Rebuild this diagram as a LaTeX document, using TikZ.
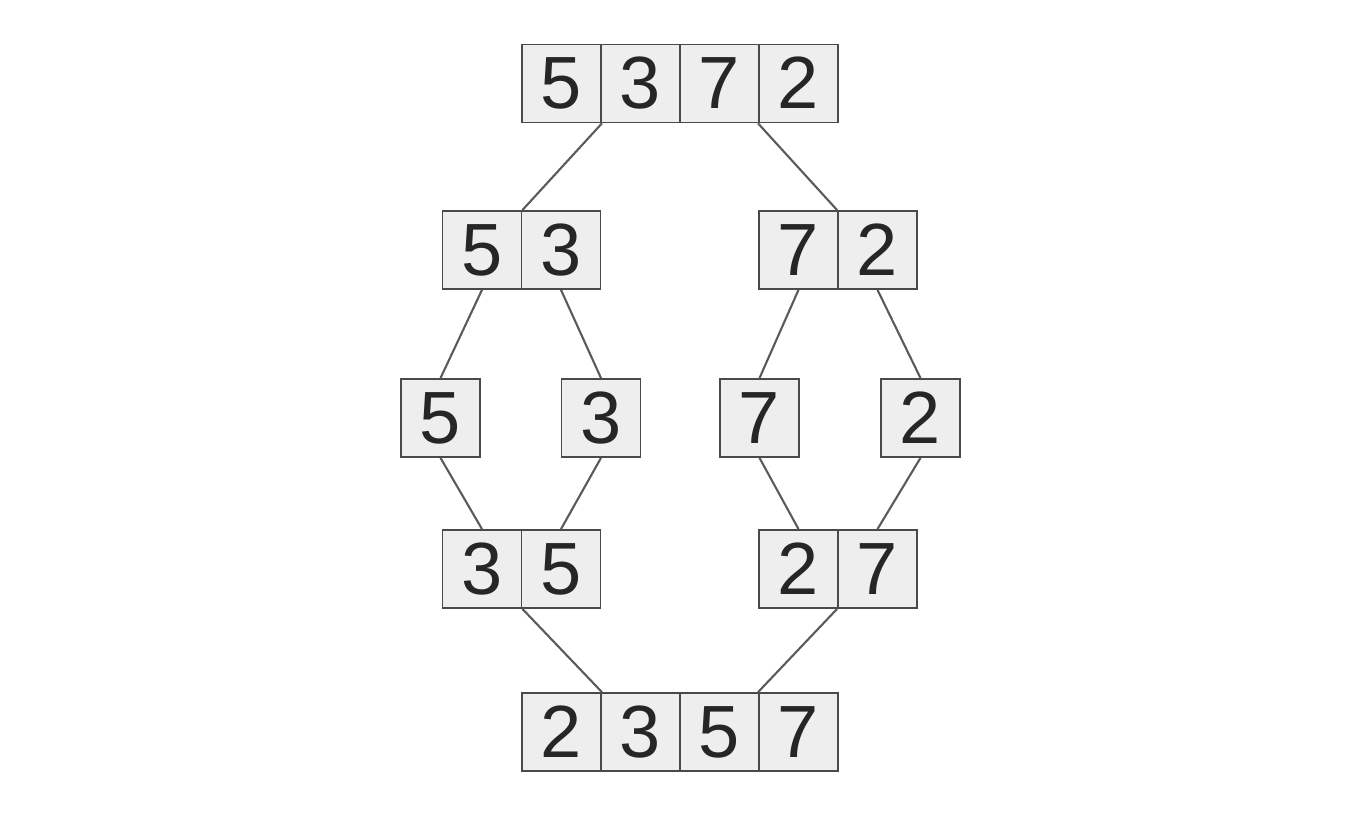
\documentclass[tikz,border=0pt]{standalone}
\usepackage{fontspec}
\setmainfont{Liberation Sans}
\definecolor{cellfill}{HTML}{EEEEEE}
\definecolor{celldraw}{HTML}{4A4A4A}
\definecolor{linkcol}{HTML}{5A5A5A}
\begin{document}
\begin{tikzpicture}[x=1pt,y=1pt,
  cell/.style={draw=celldraw, fill=cellfill, line width=1.8pt, minimum width=79pt, minimum height=78pt, inner sep=0pt, font=\fontsize{74}{80}\selectfont, text=black!85, text depth=0pt, text height=51pt},
  link/.style={draw=linkcol, line width=2.1pt}]
\useasboundingbox (0,0) rectangle (1358,824);
% top row
\node[cell] (t1) at (561.5,740.5) {5};
\node[cell] (t2) at (640.5,740.5) {3};
\node[cell] (t3) at (719.5,740.5) {7};
\node[cell] (t4) at (798.5,740.5) {2};
% row 2
\node[cell] (a1) at (482,574) {5};
\node[cell] (a2) at (561,574) {3};
\node[cell] (b1) at (798.5,574) {7};
\node[cell] (b2) at (877.5,574) {2};
% row 3
\node[cell] (s1) at (440.5,406) {5};
\node[cell] (s2) at (601,406) {3};
\node[cell] (s3) at (759.5,406) {7};
\node[cell] (s4) at (920.5,406) {2};
% row 4
\node[cell] (c1) at (482,255) {3};
\node[cell] (c2) at (561,255) {5};
\node[cell] (d1) at (798.5,255) {2};
\node[cell] (d2) at (877.5,255) {7};
% row 5
\node[cell] (e1) at (561.5,92) {2};
\node[cell] (e2) at (640.5,92) {3};
\node[cell] (e3) at (719.5,92) {5};
\node[cell] (e4) at (798.5,92) {7};
% links
\draw[link] (t1.south east) -- (a1.north east);
\draw[link] (t4.south west) -- (b2.north west);
\draw[link] (a1.south) -- (s1.north);
\draw[link] (a2.south) -- (s2.north);
\draw[link] (b1.south) -- (s3.north);
\draw[link] (b2.south) -- (s4.north);
\draw[link] (s1.south) -- (c1.north);
\draw[link] (s2.south) -- (c2.north);
\draw[link] (s3.south) -- (d1.north);
\draw[link] (s4.south) -- (d2.north);
\draw[link] (c1.south east) -- (e1.north east);
\draw[link] (d2.south west) -- (e4.north west);
\end{tikzpicture}
\end{document}
